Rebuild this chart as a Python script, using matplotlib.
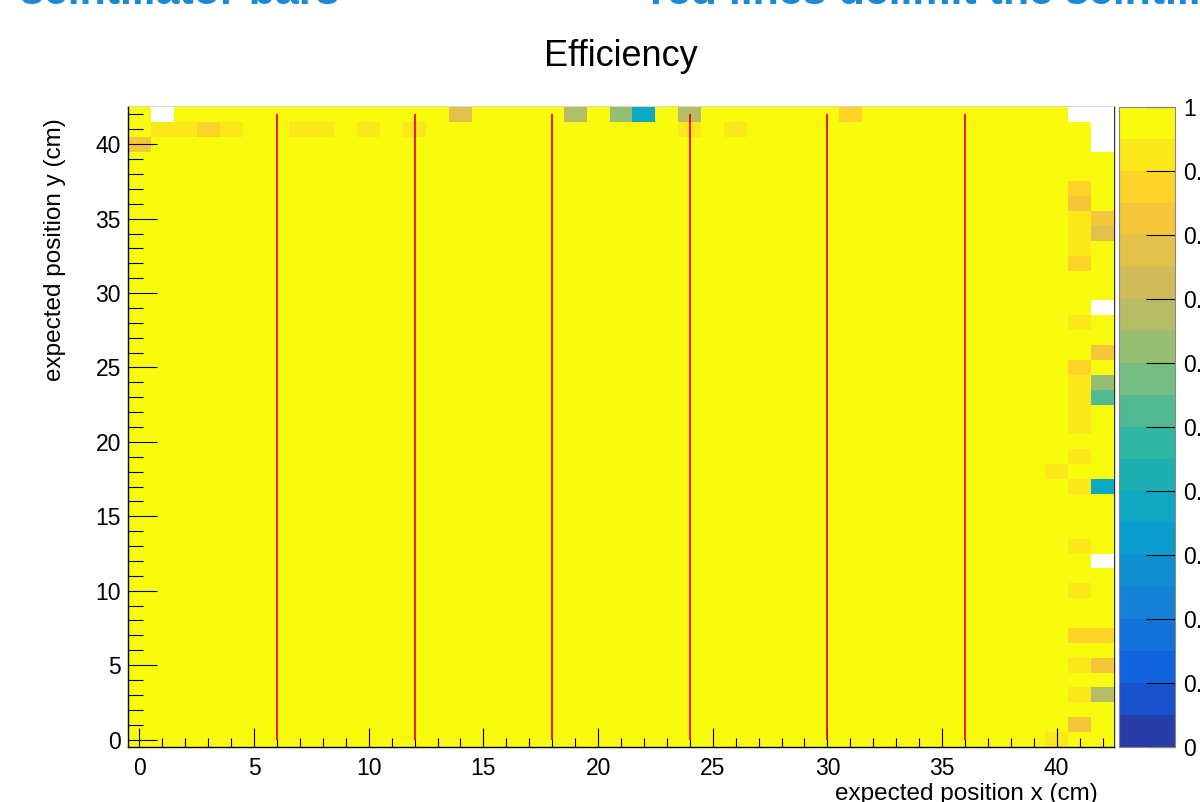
import numpy as np
import matplotlib
matplotlib.use("Agg")
import matplotlib.pyplot as plt
from matplotlib.colors import LinearSegmentedColormap, ListedColormap, BoundaryNorm
from matplotlib.ticker import MultipleLocator

plt.rcParams['font.family'] = ['Liberation Sans', 'DejaVu Sans']

# histogram binning: 43 x 43 bins of 1 cm, centred on integer positions
n_x = 43
n_y = 43

# cells that are not fully efficient (expected x, expected y, efficiency)
cell_x = [14, 19, 21, 22, 24, 31,
          1, 2, 3, 4, 7, 8, 10, 12, 24, 26,
          0,
          41, 41, 41, 42, 41, 42, 41, 41, 41, 42, 41,
          41, 42, 41, 42, 41, 41, 41, 40, 41, 42,
          41, 41, 41, 42, 41, 42, 41, 42, 41, 40]
cell_y = [42, 42, 42, 42, 42, 42,
          41, 41, 41, 41, 41, 41, 41, 41, 41, 41,
          40,
          37, 36, 35, 35, 34, 34, 33, 32, 28, 26, 25,
          24, 24, 23, 23, 22, 21, 19, 18, 17, 17,
          13, 10, 7, 7, 5, 5, 3, 3, 1, 0]
cell_eff = [0.77, 0.67, 0.62, 0.36, 0.67, 0.87,
            0.92, 0.92, 0.87, 0.92, 0.92, 0.92, 0.92, 0.92, 0.92, 0.92,
            0.82,
            0.87, 0.82, 0.92, 0.82, 0.92, 0.77, 0.92, 0.87, 0.92, 0.82, 0.87,
            0.92, 0.62, 0.92, 0.52, 0.92, 0.92, 0.92, 0.92, 0.92, 0.36,
            0.92, 0.92, 0.87, 0.87, 0.92, 0.82, 0.92, 0.67, 0.82, 0.92]

# empty bins (no expected hits)
empty_x = [1, 41, 42, 42, 42, 42, 42]
empty_y = [42, 42, 42, 41, 40, 29, 12]

# scintillator bar boundaries (red lines)
bar_edges = [6, 12, 18, 24, 30, 36]
bar_y_range = (0, 42)

eff = np.ones((n_y, n_x))
for x, y, v in zip(cell_x, cell_y, cell_eff):
    eff[y, x] = v
for x, y in zip(empty_x, empty_y):
    eff[y, x] = np.nan

# ROOT kBird palette, 20 contour levels (each level takes the colour at its upper edge)
stops = [0.0, 0.125, 0.25, 0.375, 0.5, 0.625, 0.75, 0.875, 1.0]
red = [0.2082, 0.0592, 0.0780, 0.0232, 0.1802, 0.5301, 0.8186, 0.9956, 0.9764]
green = [0.1664, 0.3599, 0.5041, 0.6419, 0.7178, 0.7492, 0.7328, 0.7862, 0.9832]
blue = [0.5293, 0.8684, 0.8385, 0.7914, 0.6425, 0.4662, 0.3499, 0.1968, 0.0539]
bird = LinearSegmentedColormap.from_list("bird", list(zip(stops, zip(red, green, blue))), N=256)
n_levels = 20
levels = np.linspace(0, 1, n_levels + 1)
palette = ListedColormap(bird((np.arange(n_levels) + 0.99) / n_levels))
palette.set_bad("white")
norm = BoundaryNorm(levels, n_levels)

fig = plt.figure(figsize=(12, 8.02), dpi=100)
ax = fig.add_axes([128 / 1200, 1 - 747 / 802, 986 / 1200, 640 / 802])
cax = fig.add_axes([1119 / 1200, 1 - 747 / 802, 56 / 1200, 640 / 802])

xe = np.arange(n_x + 1) - 0.5
ye = np.arange(n_y + 1) - 0.5
mesh = ax.pcolormesh(xe, ye, np.ma.masked_invalid(eff), cmap=palette, norm=norm)
ax.vlines(bar_edges, *bar_y_range, color="red", lw=1.3, zorder=2)

ax.set_xlim(-0.5, 42.5)
ax.set_ylim(-0.5, 42.5)
ax.xaxis.set_major_locator(MultipleLocator(5))
ax.xaxis.set_minor_locator(MultipleLocator(1))
ax.yaxis.set_major_locator(MultipleLocator(5))
ax.yaxis.set_minor_locator(MultipleLocator(1))
ax.tick_params(axis="x", which="major", direction="in", length=13.5, width=0.8, labelsize=16.5, pad=7)
ax.tick_params(axis="x", which="minor", direction="in", length=6.5, width=0.8)
ax.tick_params(axis="y", which="major", direction="in", length=21, width=0.8, labelsize=16.5, pad=5)
ax.tick_params(axis="y", which="minor", direction="in", length=11, width=0.8)
for s in ["top", "right"]:
    ax.spines[s].set_zorder(0.5)
    ax.spines[s].set_linewidth(1.0)
    ax.spines[s].set_color("#333333")
for s in ["left", "bottom"]:
    ax.spines[s].set_linewidth(1.0)

ax.set_xlabel("expected position x (cm)", fontsize=17.5, ha="right", va="top")
ax.xaxis.set_label_coords(0.984, -0.056)
ax.set_ylabel("expected position y (cm)", fontsize=17.5, loc="top")
ax.yaxis.set_label_coords(-0.063, 0.983)
ax.set_title("Efficiency", fontsize=26, y=1.064, pad=0)

cb_ticks = np.linspace(0, 1, 11)
cb = fig.colorbar(mesh, cax=cax, ticks=cb_ticks)
cb.ax.set_yticklabels(["%g" % t for t in cb_ticks])
cb.ax.tick_params(direction="in", length=21, width=0.8, labelsize=16.5, pad=6)
cb.ax.minorticks_off()
cb.outline.set_linewidth(0.8)
cb.outline.set_edgecolor("#888888")

# slide text cut off at the top of the screenshot
fig.text(20 / 1200, 1 - 4 / 802, "scintillator bars", color="#1a8ad4",
         fontsize=31, fontweight="bold", va="baseline", ha="left")
fig.text(650 / 1200, 1 - 4 / 802, "red lines delimit the scintillator bars", color="#1a8ad4",
         fontsize=31, fontweight="bold", va="baseline", ha="left")

fig.savefig("out.png", dpi=100)
